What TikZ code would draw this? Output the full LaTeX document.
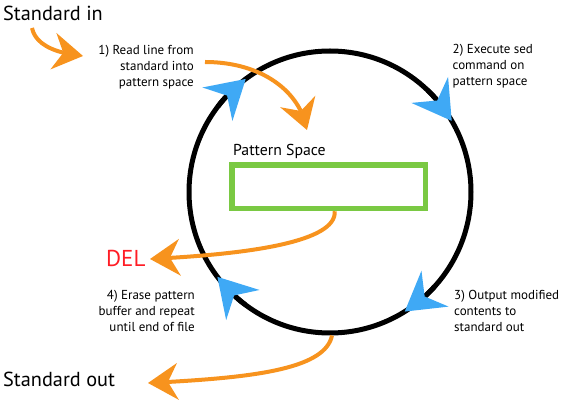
\documentclass[tikz,border=0pt]{standalone}
\usepackage{fontspec}
\setmainfont{PT Sans}
\usetikzlibrary{arrows.meta,bending}
\definecolor{orng}{HTML}{F7931E}
\definecolor{skyb}{HTML}{3FA9F5}
\definecolor{grn}{HTML}{7AC943}
\definecolor{delred}{HTML}{FF1D25}
\begin{document}
\begin{tikzpicture}[x=1pt,y=1pt,
  flow/.style={draw=orng, line width=4pt, -{Stealth[length=30pt,width=37pt,inset=10pt,line width=0pt]}},
  cyc/.style={draw=black, line width=5pt, -{Stealth[length=38pt,width=45pt,inset=13pt,line width=0pt,color=skyb]}},
  lbl/.style={inner sep=0pt, font=\fontsize{13}{16.3}\selectfont},
  big/.style={inner sep=0pt, font=\fontsize{20.3}{24}\selectfont}]
\useasboundingbox (0,0) rectangle (582,410);
\coordinate (c) at (330,218);
\node[draw, circle, line width=5pt, minimum size=282pt, inner sep=0pt] (loop) at (c) {};
\node[draw=grn, line width=5.5pt, minimum width=193.5pt, minimum height=43.5pt, inner sep=0pt] (box) at (328.75,223.25) {};
% labels
\node[big, anchor=base west] (sin) at (3,389) {Standard in};
\node[big, anchor=base west] (sout) at (3,23.3) {Standard out};
\node[inner sep=0pt, anchor=base west, font=\fontsize{23}{26}\selectfont, text=delred] (del) at (106,143.3) {DEL};
\node[inner sep=0pt, anchor=base west, font=\fontsize{15.8}{18}\selectfont] (ps) at (233,254) {Pattern Space};
\node[lbl, anchor=base east, align=right] (s1) at (194,323) {1) Read line from\\standard into\\pattern space};
\node[lbl, anchor=base west, align=left] (s2) at (452.5,324.3) {2) Execute sed\\command on\\pattern space};
\node[lbl, anchor=base west, align=left] (s3) at (454,78.3) {3) Output modified\\contents to\\standard out};
\node[lbl, anchor=base east, align=right] (s4) at (195,78.3) {4) Erase pattern\\buffer and repeat\\until end of file};
% cycle arrowheads
\draw[cyc] (c) ++(142.7:141) arc[start angle=142.7, end angle=126.7, radius=141pt];
\draw[cyc] (c) ++(46.3:141) arc[start angle=46.3, end angle=30.3, radius=141pt];
\draw[cyc] (c) ++(-42:141) arc[start angle=-42, end angle=-58, radius=141pt];
\draw[cyc] (c) ++(-127:141) arc[start angle=-127, end angle=-143, radius=141pt];
% flow arrows
\coordinate (a1s) at (32,382);
\coordinate (a1e) at (83,354);
\draw[flow] (a1s) .. controls (35,367) and (52,357) .. (a1e);
\coordinate (a2s) at (205,348);
\coordinate (a2e) at (307,280);
\draw[flow] (a2s) .. controls (260,348) and (300,320) .. (a2e);
\coordinate (a3e) at (150,151);
\draw[flow] ([xshift=6pt]box.south) .. controls (337,165) and (230,155) .. (a3e);
\coordinate (a4e) at (148,27);
\draw[flow] ([xshift=2pt]loop.south) .. controls (325,40) and (250,32) .. (a4e);
\end{tikzpicture}
\end{document}
